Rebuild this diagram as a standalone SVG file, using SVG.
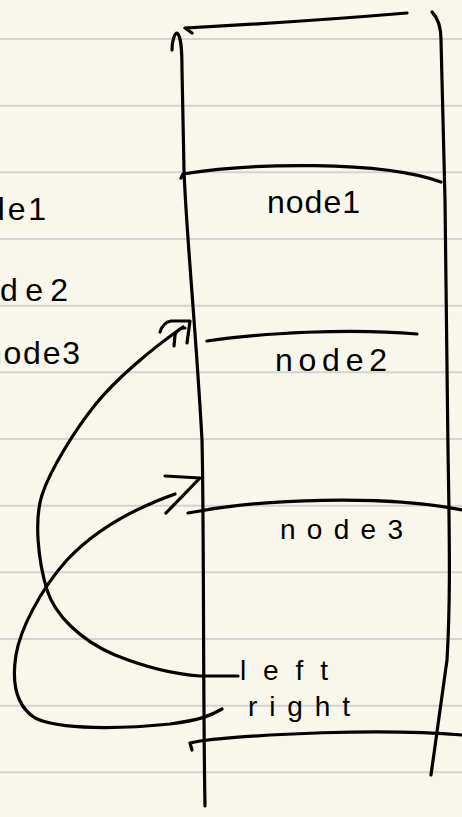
<svg xmlns="http://www.w3.org/2000/svg" width="462" height="817" viewBox="0 0 462 817">
<style>
.rule{stroke:#d3d3d3;stroke-width:2}
.ink{fill:none;stroke:#000;stroke-width:3.2;stroke-linecap:round;stroke-linejoin:round}
.lbl{font-family:"Liberation Sans",Arial,sans-serif;font-size:32px;fill:#000}
.sm{font-size:28px}
</style>
<rect width="462" height="817" fill="#f9f7eb"/>
<g id="paper-rules">
<line class="rule" x1="0" y1="39" x2="462" y2="39"/>
<line class="rule" x1="0" y1="105.7" x2="462" y2="105.7"/>
<line class="rule" x1="0" y1="172.3" x2="462" y2="172.3"/>
<line class="rule" x1="0" y1="239" x2="462" y2="239"/>
<line class="rule" x1="0" y1="305.7" x2="462" y2="305.7"/>
<line class="rule" x1="0" y1="372.3" x2="462" y2="372.3"/>
<line class="rule" x1="0" y1="439" x2="462" y2="439"/>
<line class="rule" x1="0" y1="505.7" x2="462" y2="505.7"/>
<line class="rule" x1="0" y1="572.3" x2="462" y2="572.3"/>
<line class="rule" x1="0" y1="639" x2="462" y2="639"/>
<line class="rule" x1="0" y1="705.7" x2="462" y2="705.7"/>
<line class="rule" x1="0" y1="772.3" x2="462" y2="772.3"/>
</g>
<g id="left-list">
<text class="lbl" x="46" y="220" text-anchor="end" textLength="100" lengthAdjust="spacing">node1</text>
<text class="lbl" x="68" y="301" text-anchor="end" textLength="118" lengthAdjust="spacing">node2</text>
<text class="lbl" x="80" y="364" text-anchor="end" textLength="96" lengthAdjust="spacing">node3</text>
</g>
<g id="array-box">
<path class="ink" d="M172,50 C172,40 175,33 177,33 C181,36 182,48 182,70 L184,170 C186,230 196,330 202,440 C204,520 203,700 205,806"/>
<path class="ink" d="M192,33 L185,28 Q300,22 407,13"/>
<path class="ink" d="M432,12 C438,18 441,26 441,40 L445,200 L448,450 C450,560 450,610 447,660 L431,775"/>
</g>
<g id="node1">
<path class="ink" d="M181,178 L183,174 C250,163 380,160 441,182"/>
<text class="lbl" x="267" y="213" textLength="93" lengthAdjust="spacing">node1</text>
</g>
<g id="node2">
<path class="ink" d="M207,341 C260,333 350,328 417,334"/>
<text class="lbl" x="275" y="371" textLength="112" lengthAdjust="spacing">node2</text>
</g>
<g id="node3">
<path class="ink" d="M188,513 L200,511 C260,500 380,494 462,510"/>
<text class="lbl sm" x="280" y="539" textLength="123" lengthAdjust="spacing">node3</text>
<text class="lbl sm" x="240" y="680" textLength="88" lengthAdjust="spacing">left</text>
<text class="lbl sm" x="248" y="716" textLength="102" lengthAdjust="spacing">right</text>
<path class="ink" d="M192,750 L190,743 L200,741 C260,734 380,728 462,735"/>
</g>
<g id="connectors">
<path class="ink" d="M238,676 L200,676 C170,674 145,667 115,655 C80,640 55,615 47,590 C38,560 34,520 42,495 C50,470 75,430 95,405 C115,380 150,350 183,327"/>
<path class="ink" d="M160,332 C162,326 165,322 171,321 L190,321 L187,343"/>
<path class="ink" d="M174,346 L175,335 C177,330 181,328 185,328"/>
<path class="ink" d="M222,709 C210,716 200,720 170,724 C120,729 60,730 35,718 C15,705 12,680 16,655 C20,630 40,590 67,560 C95,530 130,510 175,494"/>
<path class="ink" d="M165,476 L200,478 L166,513"/>
</g>
</svg>
